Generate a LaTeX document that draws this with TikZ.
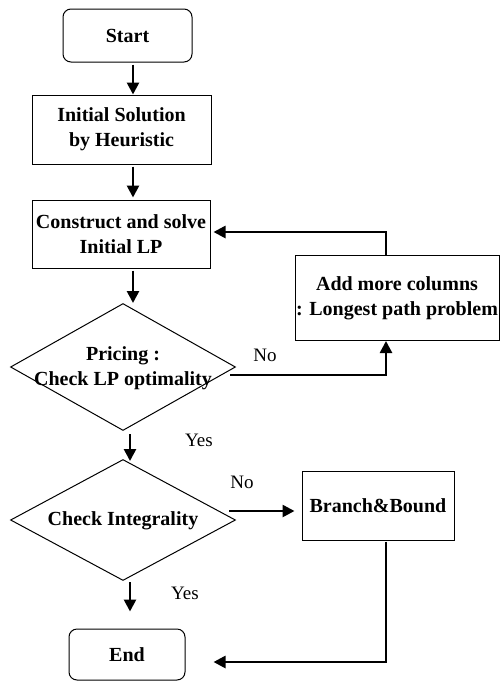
\documentclass[tikz,border=0pt]{standalone}
\usepackage{fontspec}
\setmainfont{Liberation Serif}
\usetikzlibrary{shapes.geometric,arrows.meta}
\begin{document}
\begin{tikzpicture}[x=1pt,y=-1pt,
  box/.style={draw,line width=1pt,inner sep=0pt,align=center,font=\bfseries\fontsize{20}{25}\selectfont},
  term/.style={box,rounded corners=8pt},
  dia/.style={draw,line width=1pt,diamond,inner sep=0pt},
  dtext/.style={align=center,font=\bfseries\fontsize{20}{25}\selectfont},
  lbl/.style={font=\fontsize{19}{22}\selectfont},
  arr/.style={line width=2.6pt,-{Triangle[length=12pt,width=12pt]}}]
\useasboundingbox (0,0) rectangle (501,681);
\coordinate (c1) at (133,0);
\coordinate (c2) at (130,0);
\node[term,minimum width=129pt,minimum height=53pt] (start) at (127.5,35.5) {Start};
\node[box,minimum width=179pt,minimum height=69pt] (init) at (121.5,129.5) {Initial Solution\\by Heuristic};
\node[box,minimum width=178pt,minimum height=68pt] (cons) at (121,234) {Construct and solve\\Initial LP};
\node[dia,minimum width=225pt,minimum height=127pt] (pricing) at (123,367) {};
\node[dtext] (ptext) at (123,368) {Pricing :\\Check LP optimality};
\node[box,minimum width=204pt,minimum height=85pt] (add) at (397,298) {Add more columns\\: Longest path problem};
\node[dia,minimum width=225pt,minimum height=121pt] (integ) at (123,520) {};
\node[dtext] (itext) at (123,521) {Check Integrality};
\node[box,minimum width=152pt,minimum height=69pt] (bb) at (378,505.5) {Branch\&Bound};
\node[term,minimum width=116pt,minimum height=51pt] (end) at (127,654.5) {End};
\draw[arr] ([yshift=-2pt]start.south -| c1) -- (init.north -| c1);
\draw[arr] ([yshift=-2pt]init.south -| c1) -- ([yshift=2pt]cons.north -| c1);
\draw[arr] ([yshift=-2pt]cons.south -| c1) -- (c1 |- pricing.north);
\draw[arr] ([shift={(-6pt,-8pt)}]pricing.east) -| ([xshift=-11pt]add.south);
\draw[arr] ([xshift=-11pt]add.north) |- ([shift={(3pt,2pt)}]cons.east);
\draw[arr] ([yshift=-3pt]pricing.south -| c2) -- ([yshift=-2pt]integ.north -| c2);
\draw[arr] ([shift={(-7pt,9pt)}]integ.east) -- ([shift={(-7pt,-5.5pt)}]bb.west);
\draw[arr] ([xshift=8pt,yshift=-1pt]bb.south) |- ([shift={(28pt,-7.5pt)}]end.east);
\draw[arr] ([yshift=-1pt]integ.south -| c2) -- ([yshift=17pt]end.north -| c2);
\node[lbl] (no1) at (265,355) {No};
\node[lbl] (yes1) at (199,440) {Yes};
\node[lbl] (no2) at (242,482) {No};
\node[lbl] (yes2) at (185,593) {Yes};
\end{tikzpicture}
\end{document}
